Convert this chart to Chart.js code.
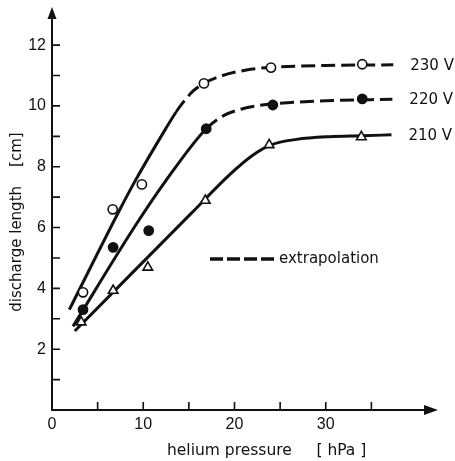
<!DOCTYPE html>
<html><head><meta charset="utf-8">
<script src="https://cdn.jsdelivr.net/npm/chart.js@4"></script>
<style>html,body{margin:0;padding:0;background:#fff;} #wrap{width:455px;height:461px;}</style>
</head><body><div id="wrap"><canvas id="c" width="455" height="461"></canvas></div>
<script>
const seriesLabels = ['230 V', '220 V', '210 V'];
// measured points
const pts230X = [3.4, 6.65, 9.85, 16.65, 24.0, 34.0];
const pts230Y = [3.87, 6.6, 7.42, 10.74, 11.26, 11.37];
const pts220X = [3.4, 6.7, 10.6, 16.9, 24.2, 34.0];
const pts220Y = [3.3, 5.35, 5.9, 9.25, 10.03, 10.23];
const pts210X = [3.2, 6.7, 10.5, 16.8, 23.8, 33.9];
const pts210Y = [2.89, 3.93, 4.69, 6.89, 8.72, 8.98];
// drawn curves
const fit230X = [1.9, 7.45, 8.9, 12.5, 13.6, 14.3, 15.5, 16.65, 18.7, 21.3, 24, 30, 37.4];
const fit230Y = [3.3, 6.6, 7.42, 9.27, 9.8, 10.09, 10.5, 10.74, 11.0, 11.18, 11.27, 11.33, 11.35];
const fit220X = [2.3, 9, 12.5, 16.9, 18.8, 20.8, 22.8, 24.2, 30, 37.3];
const fit220Y = [2.75, 6.0, 7.55, 9.25, 9.68, 9.9, 10.02, 10.07, 10.17, 10.22];
const fit210X = [2.5, 15.2, 19.5, 22, 24, 26.8, 30.4, 34, 37.2];
const fit210Y = [2.6, 6.45, 7.75, 8.38, 8.72, 8.9, 8.99, 9.02, 9.05];
const dashFromX = [13.6, 16.9, null];
const xTickLabels = [0, 10, 20, 30];
const xTickMarks = [5, 10, 15, 20, 25, 30, 35];
const yTickLabels = [2, 4, 6, 8, 10, 12];
const yTickMarks = [1, 2, 3, 4, 5, 6, 7, 8, 9, 10, 11, 12];
const xTitle = 'helium pressure     [ hPa ]';
const yTitle = 'discharge length    [cm]';
const legendText = 'extrapolation';

const INK = '#111';
const zip = (xs, ys) => xs.map((x, i) => ({x, y: ys[i]}));
const fits = [[fit230X, fit230Y], [fit220X, fit220Y], [fit210X, fit210Y]];
const pts = [[pts230X, pts230Y], [pts220X, pts220Y], [pts210X, pts210Y]];
const styles = [
  {pointStyle: 'circle', bg: '#fff', r: 4.6},
  {pointStyle: 'circle', bg: INK, r: 4.6},
  {pointStyle: 'triangle', bg: '#fff', r: 5.5}
];
const DASH = [14, 6];

const datasets = [];
fits.forEach((f, i) => {
  const d0 = dashFromX[i];
  datasets.push({
    label: seriesLabels[i] + ' fit',
    data: zip(f[0], f[1]),
    borderColor: INK, borderWidth: 3, pointRadius: 0,
    cubicInterpolationMode: 'monotone', fill: false, order: 2,
    segment: {borderDash: ctx => (d0 !== null && ctx.p0.parsed.x >= d0) ? DASH : undefined}
  });
});
pts.forEach((p, i) => {
  datasets.push({
    label: seriesLabels[i],
    data: zip(p[0], p[1]),
    showLine: false, order: 1,
    pointStyle: styles[i].pointStyle, pointRadius: styles[i].r,
    pointBackgroundColor: styles[i].bg, pointBorderColor: INK, pointBorderWidth: 1.6
  });
});

const decor = {
  id: 'decor',
  afterDatasetsDraw(chart) {
    const {ctx, chartArea: a, scales: {x, y}} = chart;
    const x0 = x.getPixelForValue(0), y0 = y.getPixelForValue(0);
    ctx.save();
    ctx.strokeStyle = INK; ctx.fillStyle = INK; ctx.lineWidth = 2;
    // axes
    ctx.beginPath();
    ctx.moveTo(x0, y0 + 1); ctx.lineTo(x0, a.top + 8);
    ctx.moveTo(x0 - 1, y0); ctx.lineTo(a.right - 10, y0);
    ctx.stroke();
    // arrows
    ctx.beginPath();
    ctx.moveTo(x0, a.top); ctx.lineTo(x0 - 4.5, a.top + 12); ctx.lineTo(x0 + 4.5, a.top + 12); ctx.closePath();
    ctx.fill();
    ctx.beginPath();
    ctx.moveTo(a.right, y0); ctx.lineTo(a.right - 14, y0 - 5); ctx.lineTo(a.right - 14, y0 + 5); ctx.closePath();
    ctx.fill();
    // tick marks (inside)
    ctx.lineWidth = 1.6;
    ctx.beginPath();
    yTickMarks.forEach(v => { const py = y.getPixelForValue(v); ctx.moveTo(x0, py); ctx.lineTo(x0 + 8, py); });
    xTickMarks.forEach(v => { const px = x.getPixelForValue(v); ctx.moveTo(px, y0); ctx.lineTo(px, y0 - 8); });
    ctx.stroke();
    // axis titles
    ctx.font = '15.5px "DejaVu Sans"';
    ctx.textBaseline = 'alphabetic';
    ctx.textAlign = 'left';
    ctx.fillText(xTitle, 167, 455);
    ctx.save();
    ctx.translate(21, 222);
    ctx.rotate(-Math.PI / 2);
    ctx.textAlign = 'center';
    ctx.font = '15px "DejaVu Sans"';
    ctx.fillText(yTitle, 0, 0);
    ctx.restore();
    // series labels at the curve ends
    ctx.font = '15px "DejaVu Sans"';
    ctx.textBaseline = 'middle';
    ctx.textAlign = 'left';
    fits.forEach((f, i) => {
      const n = f[0].length - 1;
      ctx.fillText(seriesLabels[i], x.getPixelForValue(f[0][n]) + 17, y.getPixelForValue(f[1][n]) + 1);
    });
    // legend
    ctx.lineWidth = 3.5;
    ctx.setLineDash([13, 4]);
    ctx.beginPath(); ctx.moveTo(210, 259); ctx.lineTo(274, 259); ctx.stroke();
    ctx.setLineDash([]);
    ctx.fillText(legendText, 279, 259);
    ctx.restore();
  }
};

const noPad = s => { s.paddingTop = 0; s.paddingBottom = 0; s.paddingLeft = 0; s.paddingRight = 0; };

new Chart(document.getElementById('c'), {
  type: 'line',
  data: {datasets},
  options: {
    responsive: false, animation: false, devicePixelRatio: 1,
    layout: {padding: {top: 7, right: 17, left: 0, bottom: 0}},
    plugins: {legend: {display: false}, tooltip: {enabled: false}},
    events: [],
    scales: {
      x: {
        type: 'linear', min: 0, max: 42.3,
        afterFit: s => { s.height = 51; noPad(s); },
        grid: {display: false, drawTicks: false}, border: {display: false},
        ticks: {
          stepSize: 5, autoSkip: false, maxRotation: 0, padding: 5, color: INK,
          font: {family: 'Liberation Sans', size: 16},
          callback: v => xTickLabels.includes(v) ? String(v) : ''
        }
      },
      y: {
        type: 'linear', min: 0, max: 13.25,
        afterFit: s => { s.width = 52; noPad(s); },
        grid: {display: false, drawTicks: false}, border: {display: false},
        ticks: {
          stepSize: 1, autoSkip: false, padding: 6, color: INK,
          font: {family: 'Liberation Sans', size: 16},
          callback: v => yTickLabels.includes(v) ? String(v) : ''
        }
      }
    }
  },
  plugins: [decor]
});
</script></body></html>
